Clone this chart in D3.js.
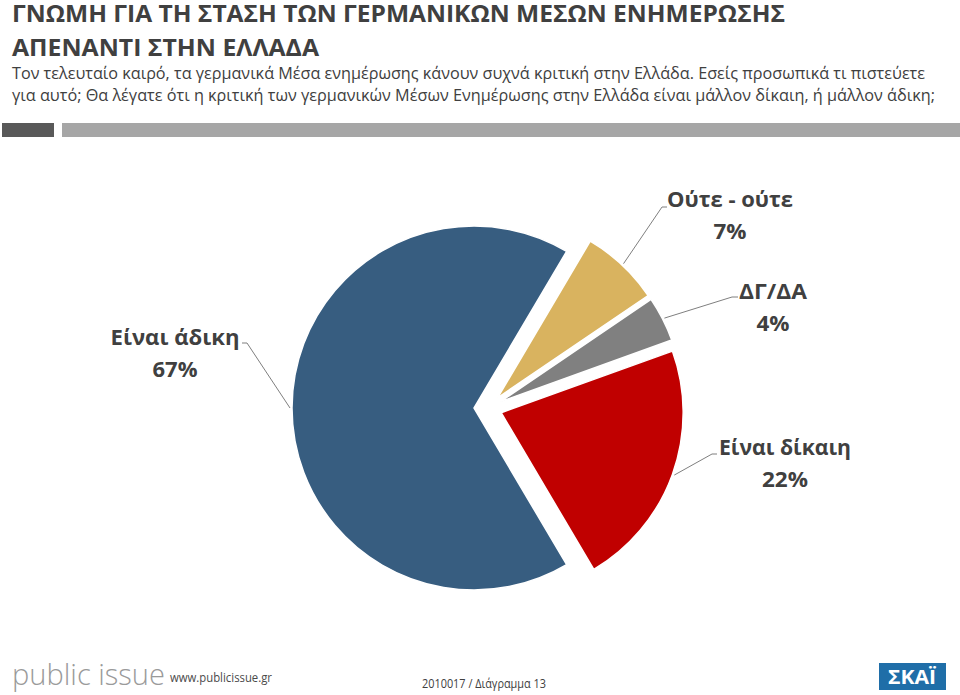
<!DOCTYPE html>
<html><head><meta charset="utf-8">
<script src="https://cdn.jsdelivr.net/npm/d3@7"></script>
<style>
html,body{margin:0;padding:0;background:#fff;}
svg{display:block;font-family:"Open Sans","Noto Sans",sans-serif;}
</style></head>
<body>
<svg id="c" width="960" height="695"></svg>
<script>
// ---- data ----
const categories = ["Είναι άδικη", "Ούτε - ούτε", "ΔΓ/ΔΑ", "Είναι δίκαιη"];
const values = [67, 7, 4, 22];
const colors = ["#375d80", "#d9b35f", "#808080", "#c00000"];
const titleLines = ["ΓΝΩΜΗ ΓΙΑ ΤΗ ΣΤΑΣΗ ΤΩΝ ΓΕΡΜΑΝΙΚΩΝ ΜΕΣΩΝ ΕΝΗΜΕΡΩΣΗΣ", "ΑΠΕΝΑΝΤΙ ΣΤΗΝ ΕΛΛΑΔΑ"];
const subtitleLines = [
  "Τον τελευταίο καιρό, τα γερμανικά Μέσα ενημέρωσης κάνουν συχνά κριτική στην Ελλάδα. Εσείς προσωπικά τι πιστεύετε",
  "για αυτό; Θα λέγατε ότι η κριτική των γερμανικών Μέσων Ενημέρωσης στην Ελλάδα είναι μάλλον δίκαιη, ή μάλλον άδικη;"
];
const footerCode = "2010017 / Διάγραμμα 13";

// ---- layout ----
const svg = d3.select("#c");
const cx = 488, cy = 408, R = 182, explode = 14;
const textCol = "#404040";

function fitText(sel, w) { sel.attr("textLength", w).attr("lengthAdjust", "spacingAndGlyphs"); }

// title
const titleW = [773, 307];
titleLines.forEach((t, i) => {
  svg.append("text").attr("x", 12).attr("y", 22 + i * 34)
    .attr("font-size", 23).attr("font-weight", 700).attr("fill", textCol)
    .text(t).call(fitText, titleW[i]);
});
const subW = [913, 923];
subtitleLines.forEach((t, i) => {
  svg.append("text").attr("x", 12).attr("y", 79 + i * 22)
    .attr("font-size", 16.5).attr("fill", textCol)
    .text(t).call(fitText, subW[i]);
});
// header bars
svg.append("rect").attr("x", 2).attr("y", 123).attr("width", 52).attr("height", 14).attr("fill", "#595959");
svg.append("rect").attr("x", 62).attr("y", 123).attr("width", 898).attr("height", 14).attr("fill", "#a6a6a6");

// pie
const startDeg = 270 - values[0] / d3.sum(values) * 180;
const pie = d3.pie().sort(null)
  .startAngle(startDeg * Math.PI / 180)
  .endAngle(startDeg * Math.PI / 180 + 2 * Math.PI);
const arcs = pie(values);
const arc = d3.arc().innerRadius(0).outerRadius(R);
const g = svg.append("g").attr("transform", `translate(${cx},${cy})`);
function mid(d) { return (d.startAngle + d.endAngle) / 2; }
function off(d, k) { const a = mid(d); return [Math.sin(a) * k, -Math.cos(a) * k]; }

g.selectAll("path").data(arcs).join("path")
  .attr("d", arc)
  .attr("fill", (d, i) => colors[i])
  .attr("stroke", "#fff").attr("stroke-width", 1.5)
  .attr("transform", d => { const o = off(d, explode); return `translate(${o[0]},${o[1]})`; });

// labels (layout: text centre, first baseline, elbow point, side)
const labelLayout = [
  { x: 175, y: 345, ex: 247, ey: 343, hx: 242 },
  { x: 730, y: 207, ex: 662, ey: 207, hx: 667 },
  { x: 773, y: 299, ex: 732, ey: 297, hx: 738 },
  { x: 785, y: 455, ex: 712, ey: 454, hx: 717 }
];
const labelW = [129, 126, 68, 132];
const pctW = [45, 33, 33, 46];
arcs.forEach((d, i) => {
  const L = labelLayout[i];
  const o = off(d, explode);
  const a = mid(d);
  const sx = cx + o[0] + Math.sin(a) * (R + 2), sy = cy + o[1] - Math.cos(a) * (R + 2);
  svg.append("polyline")
    .attr("points", `${sx},${sy} ${L.ex},${L.ey} ${L.hx},${L.ey}`)
    .attr("fill", "none").attr("stroke", "#7f7f7f").attr("stroke-width", 1);
  svg.append("text").attr("x", L.x).attr("y", L.y).attr("text-anchor", "middle")
    .attr("font-size", 22).attr("font-weight", 700).attr("fill", textCol)
    .text(categories[i]).call(fitText, labelW[i]);
  svg.append("text").attr("x", L.x).attr("y", L.y + 32).attr("text-anchor", "middle")
    .attr("font-size", 22).attr("font-weight", 700).attr("fill", textCol)
    .text(values[i] + "%").call(fitText, pctW[i]);
});

// footer
svg.append("text").attr("x", 12).attr("y", 685).attr("font-size", 30).attr("font-weight", 300)
  .attr("fill", "#9a9a9a").text("public issue").call(fitText, 153);
svg.append("text").attr("x", 170).attr("y", 682).attr("font-size", 12).attr("fill", "#4a4a4a")
  .text("www.publicissue.gr").call(fitText, 102);
svg.append("text").attr("x", 422).attr("y", 688).attr("font-size", 12).attr("fill", textCol)
  .text(footerCode).call(fitText, 124);
svg.append("rect").attr("x", 879).attr("y", 663).attr("width", 67).attr("height", 27).attr("fill", "#1f6ea8");
svg.append("text").attr("x", 912).attr("y", 684).attr("text-anchor", "middle").attr("font-size", 19)
  .attr("font-weight", 700).attr("fill", "#fff").text("ΣΚΑΪ").call(fitText, 48);
</script>
</body></html>
